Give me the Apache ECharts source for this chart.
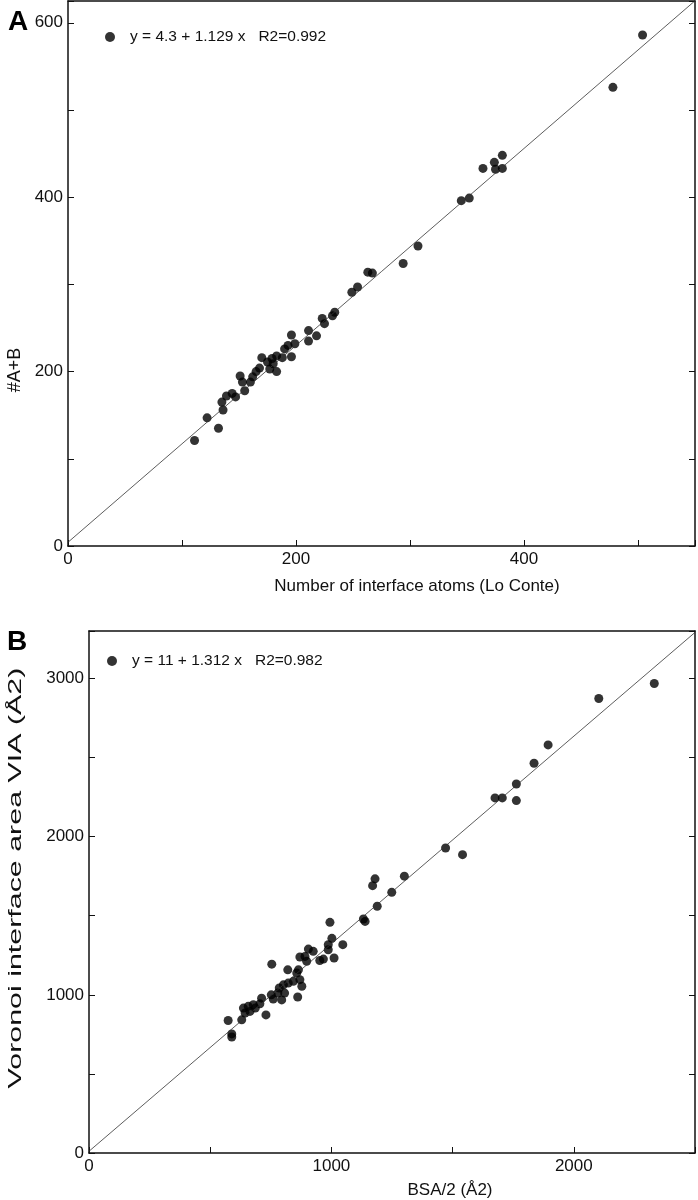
<!DOCTYPE html>
<html>
<head>
<meta charset="utf-8">
<script src="https://cdn.jsdelivr.net/npm/echarts@6/dist/echarts.min.js"></script>
<style>
  html, body { margin: 0; padding: 0; background: #fff; }
  #chart { width: 698px; height: 1200px; }
</style>
</head>
<body>
<div id="chart"></div>
<script>
// panel A: Lo Conte interface atoms vs #A+B
const atomsLoConte = [111, 132, 122, 136, 135, 139, 144, 147, 151, 153, 155, 160, 162, 165, 168, 170, 175, 177, 180, 183,
  179, 183, 188, 190, 196, 196, 193, 199, 211, 211, 218, 223, 225, 232, 234, 249, 254, 263, 267, 294,
  307, 345, 352, 364, 374, 375, 381, 381, 478, 504]
const atomsAB = [121, 135, 147, 156, 165, 172, 175, 171, 195, 188, 178, 188, 194, 200, 204, 216, 211, 203, 209, 200,
  215, 218, 216, 226, 217, 242, 230, 232, 247, 235, 241, 261, 255, 264, 268, 291, 297, 314, 313, 324,
  344, 396, 399, 433, 440, 432, 448, 433, 526, 586]
const fitA = [4.3, 1.129]   // intercept, slope
const r2A = 0.992

// panel B: BSA/2 vs Voronoi interface area
const bsaHalf = [574, 589, 589, 630, 644, 664, 637, 657, 678, 686, 705, 712, 730, 752, 754, 760, 779, 785, 795, 802,
  807, 820, 822, 843, 857, 861, 864, 870, 870, 878, 891, 898, 905, 925, 952, 967, 987, 987, 994, 1002,
  1011, 1047, 1132, 1139, 1170, 1180, 1189, 1249, 1301, 1471, 1541, 1675, 1705, 1763, 1763, 1836, 1894, 2103, 2332]
const voronoiArea = [838, 753, 733, 842, 885, 895, 916, 927, 937, 916, 943, 979, 873, 1000, 1194, 973, 1011, 1043, 968, 1063,
  1011, 1158, 1074, 1085, 1138, 986, 1158, 1096, 1239, 1054, 1243, 1212, 1289, 1275, 1217, 1226, 1317, 1285, 1458, 1357,
  1233, 1317, 1479, 1464, 1690, 1733, 1560, 1648, 1750, 1928, 1886, 2245, 2245, 2333, 2228, 2464, 2580, 2873, 2968]
const fitB = [11, 1.312]
const r2B = 0.982

const xTicksA = [0, 200, 400]
const yTicksA = [0, 200, 400, 600]
const xTicksB = [0, 1000, 2000]
const yTicksB = [0, 1000, 2000, 3000]

const FONT = 'Liberation Sans'

const labelA = 'y = 4.3 + 1.129 x   R2=' + r2A.toFixed(3)
const labelB = 'y = 11 + 1.312 x   R2=' + r2B.toFixed(3)

function pairs(xs, ys) {
  return xs.map((x, i) => [x, ys[i]])
}
function fitLine(fit, xmax) {
  return [[0, fit[0]], [xmax, fit[0] + fit[1] * xmax]]
}
function showOnly(list) {
  return v => (list.indexOf(v) >= 0 ? String(v) : '')
}

// axis builders (bottom/left carry labels, top/right just close the box)
function mainX(grid, max, interval, ticks) {
  return {
    type: 'value', gridIndex: grid, min: 0, max: max, interval: interval, position: 'bottom',
    axisLine: { onZero: false, lineStyle: { color: '#111', width: 1.5 } },
    axisTick: { inside: true, length: 6, lineStyle: { color: '#111' } },
    axisLabel: { formatter: showOnly(ticks), fontFamily: FONT, fontSize: 17, color: '#111', margin: 5 },
    splitLine: { show: false }
  }
}
function topX(grid, max) {
  return {
    type: 'value', gridIndex: grid, min: 0, max: max, position: 'top',
    axisLine: { onZero: false, lineStyle: { color: '#111', width: 1.5 } },
    axisTick: { show: false }, axisLabel: { show: false }, splitLine: { show: false }
  }
}
function mainY(grid, max, interval, ticks) {
  return {
    type: 'value', gridIndex: grid, min: 0, max: max, interval: interval, position: 'left',
    axisLine: { onZero: false, lineStyle: { color: '#111', width: 1.5 } },
    axisTick: { inside: true, length: 6, lineStyle: { color: '#111' } },
    axisLabel: { formatter: showOnly(ticks), fontFamily: FONT, fontSize: 17, color: '#111', margin: 5 },
    splitLine: { show: false }
  }
}
function rightY(grid, max, interval) {
  return {
    type: 'value', gridIndex: grid, min: 0, max: max, interval: interval, position: 'right',
    axisLine: { onZero: false, lineStyle: { color: '#111', width: 1.5 } },
    axisTick: { inside: true, length: 6, lineStyle: { color: '#111' } },
    axisLabel: { show: false }, splitLine: { show: false }
  }
}

// axis titles are placed by hand, they sit off-centre in the original
function axisTitle(text, x, y, size, rot, stretch) {
  return {
    type: 'text', x: x, y: y, rotation: rot, scaleX: stretch || 1,
    style: { text: text, fontFamily: FONT, fontSize: size, fill: '#111', align: 'center', verticalAlign: 'middle' }
  }
}

const myChart = echarts.init(document.getElementById('chart'))

const option = {
  backgroundColor: '#fff',
  animation: false,
  title: [
    { text: 'A', left: 3, top: 3, textStyle: { fontFamily: FONT, fontSize: 28, fontWeight: 'bold', color: '#000' } },
    { text: 'B', left: 2, top: 623, textStyle: { fontFamily: FONT, fontSize: 28, fontWeight: 'bold', color: '#000' } }
  ],
  legend: [
    { data: [labelA], left: 105, top: 29, padding: 0, icon: 'circle', itemWidth: 10, itemHeight: 10,
      textStyle: { fontFamily: FONT, fontSize: 15.5, color: '#111', padding: [0, 0, 0, 10] } },
    { data: [labelB], left: 107, top: 653, padding: 0, icon: 'circle', itemWidth: 10, itemHeight: 10,
      textStyle: { fontFamily: FONT, fontSize: 15.5, color: '#111', padding: [0, 0, 0, 10] } }
  ],
  graphic: [
    axisTitle('Number of interface atoms (Lo Conte)', 417, 586, 17, 0),
    axisTitle('#A+B', 15, 370, 18, Math.PI / 2),
    axisTitle('BSA/2 (Å2)', 450, 1190, 17, 0),
    axisTitle('Voronoi interface area VIA (Å2)', 16, 878, 19, Math.PI / 2, 1.6)
  ],
  grid: [
    { left: 68, top: 1, width: 627, height: 545 },
    { left: 89, top: 631, width: 606, height: 522 }
  ],
  xAxis: [
    mainX(0, 550, 100, xTicksA),
    topX(0, 550),
    mainX(1, 2500, 500, xTicksB),
    topX(1, 2500)
  ],
  yAxis: [
    mainY(0, 625, 100, yTicksA),
    rightY(0, 625, 100),
    mainY(1, 3300, 500, yTicksB),
    rightY(1, 3300, 500)
  ],
  series: [
    {
      type: 'line', xAxisIndex: 0, yAxisIndex: 0, data: fitLine(fitA, 550),
      symbol: 'none', clip: true, lineStyle: { color: '#333', width: 0.8 }, silent: true
    },
    {
      name: labelA, type: 'scatter', xAxisIndex: 0, yAxisIndex: 0, data: pairs(atomsLoConte, atomsAB),
      symbol: 'circle', symbolSize: 9, itemStyle: { color: '#000' }
    },
    {
      type: 'line', xAxisIndex: 2, yAxisIndex: 2, data: fitLine(fitB, 2500),
      symbol: 'none', clip: true, lineStyle: { color: '#333', width: 0.8 }, silent: true
    },
    {
      name: labelB, type: 'scatter', xAxisIndex: 2, yAxisIndex: 2, data: pairs(bsaHalf, voronoiArea),
      symbol: 'circle', symbolSize: 9, itemStyle: { color: '#000' }
    }
  ]
}

myChart.setOption(option)
</script>
</body>
</html>
